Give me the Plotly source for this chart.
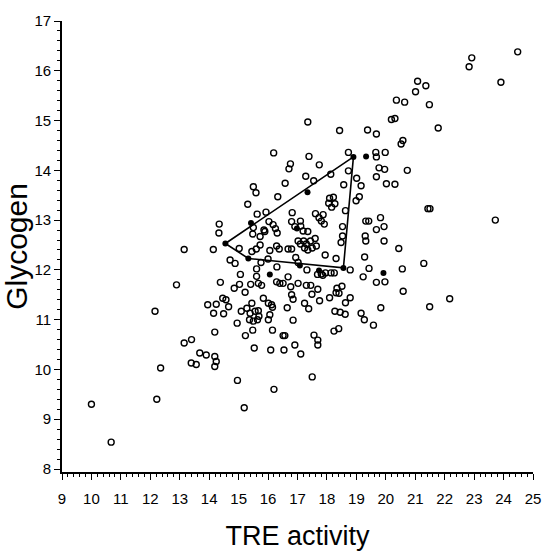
import plotly.graph_objects as go

# Open-circle observations (TRE activity, Glycogen)
tre = [10.0,10.67,12.16,12.22,12.35,12.89,13.15,13.15,13.40,13.39,13.56,13.68,13.90,13.95,14.15,14.19,14.19,14.24,14.19,14.14,14.34,14.38,14.24,14.46,14.49,14.66,14.85,15.03,15.06,
       15.02,14.71,14.88,14.95,15.23,15.48,15.53,16.09,14.96,15.19,16.20,17.50,
       15.31,15.50,15.59,16.19,16.33,16.58,16.76,16.71,17.35,17.39,17.74,17.28,17.55,18.13,18.43,18.73,19.66,19.68,19.98,19.38,19.68,20.19,20.31,20.36,20.64,20.52,20.58,21.08,21.36,21.01,21.48,21.78,22.92,22.83,24.48,23.91,20.73,19.77,19.96,19.68,20.02,20.31,18.73,19.01,19.16,18.57,
       16.82,18.99,19.10,18.09,18.22,18.27,18.06,18.16,18.63,17.61,17.73,17.81,17.91,17.87,19.32,19.42,19.82,19.94,19.68,21.43,21.50,23.72,18.53,19.30,19.32,19.94,20.44,18.48,18.53,18.31,17.94,19.28,21.29,20.56,19.43,18.79,
       19.23,19.68,19.97,20.59,19.83,21.49,22.17,19.16,19.27,19.58,18.79,18.63,18.34,18.51,18.31,18.41,18.09,18.27,18.45,18.62,18.24,18.40,18.14,18.25,17.81,17.86,17.95,17.32,16.94,17.02,16.68,16.30,15.76,
       15.73,15.45,15.60,16.06,16.00,16.38,16.68,16.80,17.02,17.10,17.21,17.30,17.44,17.60,17.64,17.50,17.35,17.24,16.80,16.91,17.10,17.11,17.19,17.35,16.03,16.17,16.25,16.31,15.86,15.48,15.50,15.63,15.93,14.33,15.73,15.89,16.29,
       15.22,15.41,15.67,15.78,15.61,15.61,16.29,16.40,16.51,17.02,17.30,17.45,17.68,16.77,16.80,16.85,17.24,17.38,17.49,17.69,17.75,16.65,16.85,16.15,16.15,16.51,16.57,16.54,16.91,17.11,17.56,17.69,17.69,
       14.57,15.09,15.28,15.45,15.39,15.56,15.67,15.69,15.37,15.50,15.64,15.84,16.01,16.12,16.06,16.01]
glycogen = [9.30,8.54,11.17,9.40,10.03,11.70,12.41,10.53,10.60,10.13,10.10,10.33,10.29,11.30,11.13,10.75,10.26,10.16,10.06,12.41,12.92,11.75,11.31,11.43,11.12,11.26,11.63,11.71,11.91,
            12.43,12.20,12.13,10.93,10.68,10.79,10.43,10.39,9.78,9.23,9.60,9.85,
            13.32,13.67,13.55,14.35,13.47,13.74,14.13,14.03,14.97,14.28,14.11,13.88,13.79,13.92,14.80,14.36,14.36,14.27,14.36,14.81,14.73,15.02,15.04,15.41,15.37,14.53,14.60,15.79,15.70,15.58,15.32,14.85,16.26,16.08,16.38,15.77,14.00,14.05,14.02,13.87,13.73,13.72,13.99,13.84,13.69,13.71,
            13.15,13.39,13.47,13.44,13.46,13.33,13.34,13.26,13.19,13.13,13.05,12.98,12.92,13.11,12.98,12.98,13.05,12.87,12.81,13.23,13.23,13.00,12.87,12.68,12.58,12.58,12.43,12.55,12.68,12.23,12.30,12.26,12.13,12.02,12.03,12.00,
            11.86,11.75,11.76,11.57,11.24,11.26,11.42,11.13,11.00,10.89,11.44,11.34,11.63,11.67,11.54,11.53,11.44,11.17,11.15,11.11,10.77,10.82,11.94,11.94,11.92,11.89,11.94,12.00,12.25,12.15,11.86,12.06,12.15,
            12.50,12.37,12.42,12.39,12.22,12.42,12.42,12.42,12.58,12.52,12.58,12.52,12.58,12.63,12.48,12.44,12.40,12.44,12.97,12.87,12.98,12.88,12.78,12.77,12.97,12.91,12.83,12.74,12.80,12.72,12.85,13.12,13.16,12.74,12.67,12.77,12.48,
            11.55,11.71,11.73,11.69,12.02,11.87,11.76,11.73,11.73,11.73,11.69,11.69,11.91,11.66,11.50,11.41,11.33,11.22,11.51,11.61,11.38,11.24,10.99,11.25,10.79,10.68,10.68,10.39,10.49,10.31,10.69,10.59,10.49,
            11.40,11.17,11.23,11.33,11.13,11.17,11.18,11.07,11.00,10.97,11.00,11.43,11.33,11.30,11.10,11.00]

# Dark (overlapping / highlighted) points
tre_dark = [14.55,15.33,18.90,18.56,17.34,19.33,15.42,17.08,16.06,19.92,17.73,16.98]
glycogen_dark = [12.53,12.23,14.27,12.04,13.56,14.28,12.94,12.09,11.91,11.94,11.99,12.83]

# Outline polygon
poly_tre = [14.55,18.90,18.56,15.33,14.55]
poly_glycogen = [12.53,14.27,12.04,12.23,12.53]

x_ticks = list(range(9, 26))
y_ticks = list(range(8, 18))

fig = go.Figure()
fig.add_trace(go.Scatter(x=poly_tre, y=poly_glycogen, mode="lines",
                         line=dict(color="black", width=1.6), hoverinfo="skip"))
fig.add_trace(go.Scatter(x=tre, y=glycogen, mode="markers",
                         marker=dict(symbol="circle-open", size=6, color="black",
                                     line=dict(width=1.4, color="black"))))
fig.add_trace(go.Scatter(x=tre_dark, y=glycogen_dark, mode="markers",
                         marker=dict(symbol="circle", size=6, color="black")))

font = "Liberation Sans, Arial, sans-serif"
fig.update_layout(
    width=553, height=558,
    margin=dict(l=61, r=18, t=17, b=84),
    paper_bgcolor="white", plot_bgcolor="white",
    showlegend=False,
    font=dict(family=font, color="black"),
    xaxis=dict(range=[9, 25], tickvals=x_ticks, ticktext=[str(v) for v in x_ticks],
               showgrid=False, zeroline=False, showline=True, linecolor="black", linewidth=1.6,
               ticks="outside", ticklen=6, tickwidth=1.3, tickcolor="black",
               minor=dict(dtick=0.2, ticks="outside", ticklen=3, tickwidth=1, tickcolor="black"),
               tickfont=dict(size=15, family=font, color="black"), ticklabelstandoff=6,
               title=dict(text="TRE activity", font=dict(size=27, family=font, color="black"), standoff=20)),
    yaxis=dict(range=[7.94, 17], tickvals=y_ticks, ticktext=[str(v) for v in y_ticks],
               showgrid=False, zeroline=False, showline=True, linecolor="black", linewidth=1.6,
               ticks="outside", ticklen=6, tickwidth=1.3, tickcolor="black",
               minor=dict(dtick=0.2, ticks="outside", ticklen=3, tickwidth=1, tickcolor="black"),
               tickfont=dict(size=15, family=font, color="black"),
               title=dict(text="Glycogen", font=dict(size=30, family=font, color="black"), standoff=2)),
)

fig.write_html("out.html")
